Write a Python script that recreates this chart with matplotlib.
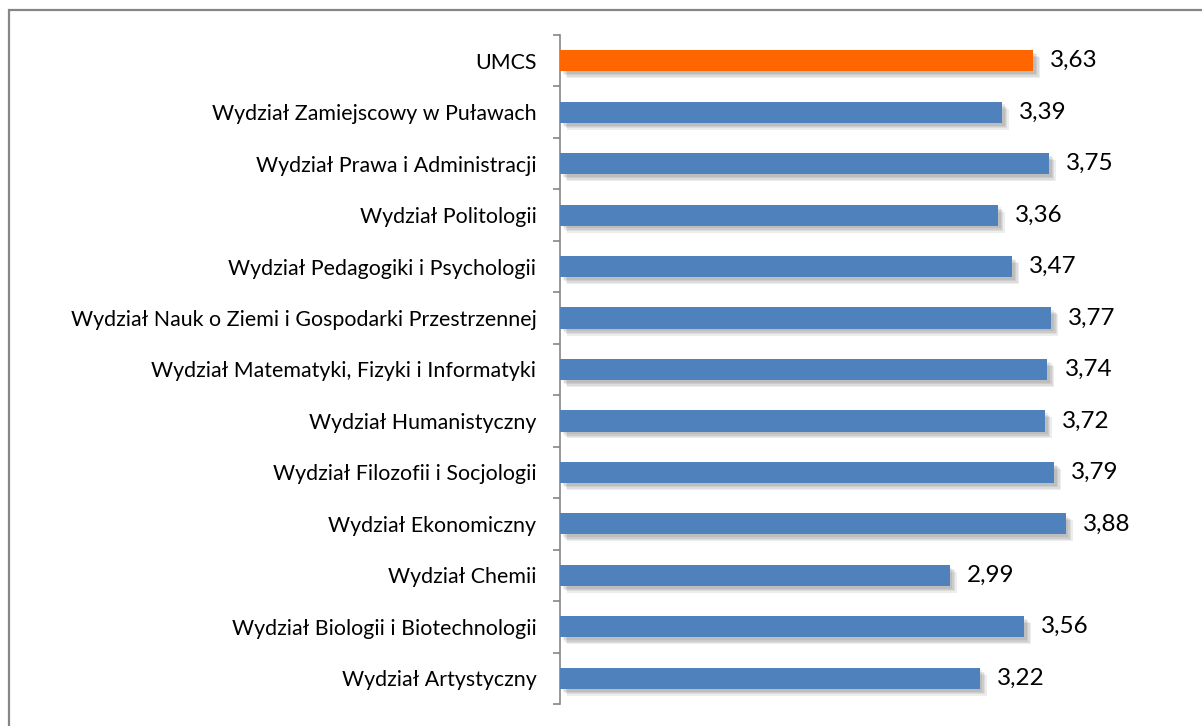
import matplotlib.pyplot as plt
import matplotlib.patheffects as pe
from matplotlib.patches import Rectangle

# categories listed from the bottom of the chart upwards
categories = [
    'Wydział Artystyczny',
    'Wydział Biologii i Biotechnologii',
    'Wydział Chemii',
    'Wydział Ekonomiczny',
    'Wydział Filozofii i Socjologii',
    'Wydział Humanistyczny',
    'Wydział Matematyki, Fizyki i Informatyki',
    'Wydział Nauk o Ziemi i Gospodarki Przestrzennej',
    'Wydział Pedagogiki i Psychologii',
    'Wydział Politologii',
    'Wydział Prawa i Administracji',
    'Wydział Zamiejscowy w Puławach',
    'UMCS',
]
values = [3.22, 3.56, 2.99, 3.88, 3.79, 3.72, 3.74, 3.77, 3.47, 3.36, 3.75, 3.39, 3.63]
highlight = 'UMCS'

BLUE = '#4F81BD'
ORANGE = '#FF6600'
GRAY = '#868686'

plt.rcParams['font.family'] = ['Lato', 'DejaVu Sans']

W, H = 1202, 726
fig = plt.figure(figsize=(W / 100, H / 100), dpi=100)
fig.patch.set_facecolor('white')

# chart area border (only top/left visible, rest cropped)
fig.add_artist(Rectangle((8.5 / W, -0.1), 1.2, 1.1 - 9.5 / H,
                         transform=fig.transFigure, fill=False,
                         edgecolor=GRAY, linewidth=1.6))

ax = fig.add_axes([560 / W, 1 - 704 / H, (1140 - 560) / W, (704 - 35) / H])

ys = list(range(len(categories)))
colors = [ORANGE if c == highlight else BLUE for c in categories]

# soft shadow: stacked offsets with low alpha
shadow = [pe.SimplePatchShadow(offset=(d, -d), shadow_rgbFace='black', alpha=0.07)
          for d in (5, 4, 3, 2)]
bars = ax.barh(ys, values, height=0.41, color=colors, zorder=3)
for b in bars:
    b.set_path_effects(shadow + [pe.Normal()])

for y, v in zip(ys, values):
    ax.annotate(f'{v:.2f}'.replace('.', ','), xy=(v, y), xytext=(17, 0),
                textcoords='offset pixels', va='center', ha='left',
                fontsize=17.5, color='black')

ax.set_xlim(0, 4.45)
ax.set_ylim(-0.5, len(categories) - 0.5)

ax.set_yticks(ys)
ax.set_yticklabels(categories, fontsize=15.4)
ax.tick_params(axis='y', which='major', length=0, pad=17)
ax.set_yticks([y - 0.5 for y in ys] + [len(categories) - 0.5], minor=True)
ax.tick_params(axis='y', which='minor', length=5, width=1.2, color=GRAY)

ax.set_xticks([])
for s in ('top', 'right', 'bottom'):
    ax.spines[s].set_visible(False)
ax.spines['left'].set_color(GRAY)
ax.spines['left'].set_linewidth(1.2)

fig.savefig('out.png', dpi=100, facecolor='white')
